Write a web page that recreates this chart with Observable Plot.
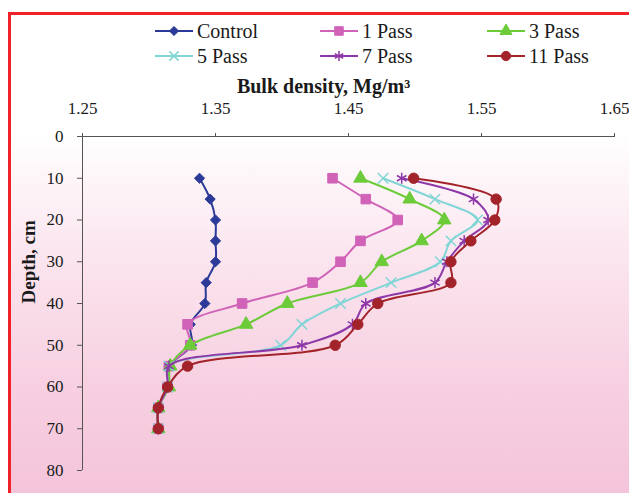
<!DOCTYPE html>
<html><head><meta charset="utf-8">
<script src="https://cdn.jsdelivr.net/npm/d3@7"></script>
<script src="https://cdn.jsdelivr.net/npm/@observablehq/plot@0.6"></script>
<style>
body{margin:0;width:629px;height:493px;overflow:hidden;background:#fff;position:relative;}
body, #legend, .item, .item span, #chart svg, #chart svg text{font-family:"Liberation Serif","Times New Roman",Times,serif !important;}
#frame{position:absolute;left:8px;top:12px;width:640px;height:500px;border:3px solid #ee2228;box-sizing:border-box;
  background:linear-gradient(to bottom,#ffffff 0%,#ffffff 24%,#fbe6ef 48%,#f7d0e1 75%,#f4c2d9 100%);}
#chart{position:absolute;left:0;top:0;}
#legend{position:absolute;left:0;top:0;width:629px;height:70px;}
.item{position:absolute;display:flex;align-items:center;font-size:20px;color:#1a1a1a;line-height:1;height:24px;}
.item svg{margin-right:4px;}
</style>
</head><body>
<div id="frame"></div>
<div id="chart"></div>
<div id="legend"></div>
<script>
// ---- data ----
const depths = [10, 15, 20, 25, 30, 35, 40, 45, 50, 55, 60, 65, 70];
const seriesNames = ["Control", "1 Pass", "3 Pass", "5 Pass", "7 Pass", "11 Pass"];
const control = [1.338, 1.346, 1.350, 1.350, 1.350, 1.343, 1.342, 1.331, 1.332, 1.315, 1.314, 1.307, 1.307];
const pass1   = [1.438, 1.463, 1.487, 1.459, 1.444, 1.423, 1.370, 1.329, 1.331, 1.315, 1.314, 1.307, 1.307];
const pass3   = [1.459, 1.496, 1.522, 1.505, 1.475, 1.459, 1.404, 1.373, 1.331, 1.316, 1.315, 1.307, 1.307];
const pass5   = [1.476, 1.515, 1.547, 1.527, 1.519, 1.482, 1.444, 1.415, 1.399, 1.315, 1.314, 1.307, 1.307];
const pass7   = [1.490, 1.544, 1.555, 1.537, 1.524, 1.515, 1.463, 1.453, 1.415, 1.315, 1.314, 1.307, 1.307];
const pass11  = [1.499, 1.561, 1.560, 1.542, 1.527, 1.527, 1.472, 1.457, 1.440, 1.329, 1.314, 1.307, 1.307];
const xTicks = [1.25, 1.35, 1.45, 1.55, 1.65];
const yTicks = [0, 10, 20, 30, 40, 50, 60, 70, 80];
const colors = ["#2b3a98", "#d062b8", "#6ccb38", "#80d6d6", "#8e38a8", "#a3232b"];
const symbols = ["diamond2", "square", "triangle", "times", "asterisk", "circle"];
const dotR = [4.6, 5.4, 5.0, 4.8, 5.2, 5.2];

const allValues = [control, pass1, pass3, pass5, pass7, pass11];
const rows = [];
seriesNames.forEach((s, i) => depths.forEach((d, j) => rows.push({series: s, depth: d, value: allValues[i][j]})));

const serif = "'Liberation Serif','Times New Roman',Times,serif";
const marks = [
  Plot.ruleY([0], {stroke: "#555", strokeWidth: 1}),
  Plot.ruleX([1.25], {stroke: "#555", strokeWidth: 1}),
  Plot.axisX({anchor: "top", ticks: xTicks, tickFormat: d3.format(".2f"), tickSize: 4, tickPadding: 19, fontSize: 17, label: null, stroke: "#555"}),
  Plot.axisY({anchor: "left", ticks: yTicks, tickSize: 5, tickPadding: 14, fontSize: 17, label: null, stroke: "#555"}),
  Plot.text(["Bulk density, Mg/m³"], {frameAnchor: "top", lineAnchor: "bottom", dx: -25, dy: -44, fontSize: 20, fontWeight: "bold", fill: "#1a1a1a"}),
  Plot.text(["Depth, cm"], {frameAnchor: "left", dx: -54, rotate: -90, fontSize: 19, fontWeight: "bold", fill: "#1a1a1a"})
];
seriesNames.forEach((s, i) => {
  const data = rows.filter(r => r.series === s);
  marks.push(Plot.line(data, {x: "value", y: "depth", stroke: colors[i], strokeWidth: 2, curve: "catmull-rom"}));
  marks.push(Plot.dot(data, {x: "value", y: "depth", symbol: () => symbols[i], r: dotR[i],
    fill: (i === 3 || i === 4) ? "none" : colors[i], stroke: colors[i], strokeWidth: (i === 3 || i === 4) ? 1.5 : 1}));
});

const chart = Plot.plot({
  width: 629, height: 493,
  marginTop: 136, marginBottom: 23, marginLeft: 82, marginRight: 15,
  style: {background: "transparent", fontFamily: serif, color: "#1a1a1a"},
  x: {domain: [1.25, 1.65], axis: null},
  y: {domain: [0, 80], reverse: true, axis: null},
  symbol: {domain: symbols, range: symbols},
  marks
});
document.getElementById("chart").appendChild(chart);

// ---- legend ----
const legendCols = [155, 320, 487];
const legendRows = [31, 56];
const legend = d3.select("#legend");
const symMap = {diamond2: d3.symbolDiamond2, square: d3.symbolSquare, triangle: d3.symbolTriangle, times: d3.symbolTimes, asterisk: d3.symbolAsterisk, circle: d3.symbolCircle};
seriesNames.forEach((s, i) => {
  const item = legend.append("div").attr("class", "item")
    .style("left", legendCols[i % 3] + "px").style("top", (legendRows[Math.floor(i / 3)] - 12) + "px");
  const sv = item.append("svg").attr("width", 38).attr("height", 16);
  sv.append("line").attr("x1", 0).attr("x2", 38).attr("y1", 8).attr("y2", 8).attr("stroke", colors[i]).attr("stroke-width", 2);
  const stroked = (i === 3 || i === 4);
  sv.append("path").attr("transform", "translate(19,8)")
    .attr("d", d3.symbol(symMap[symbols[i]], Math.PI * dotR[i] * dotR[i] * 0.8)())
    .attr("fill", stroked ? "none" : colors[i]).attr("stroke", colors[i]).attr("stroke-width", stroked ? 1.5 : 1);
  item.append("span").text(s);
});
</script>
</body></html>
